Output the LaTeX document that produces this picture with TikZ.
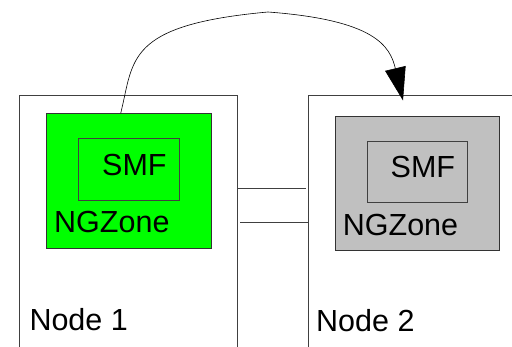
\documentclass[tikz,border=0pt]{standalone}
\usepackage{fontspec}
\setmainfont{Liberation Sans}
\usetikzlibrary{arrows.meta}
\definecolor{zonegreen}{HTML}{00FF00}
\definecolor{zonegray}{HTML}{C0C0C0}
\tikzset{
	hostbox/.style={draw=black!75, line width=0.8pt, rectangle, anchor=north west, inner sep=0pt},
	zonebox/.style={draw=black!80, line width=0.9pt, rectangle, anchor=north west, inner sep=0pt},
	smfbox/.style={draw=black!75, line width=0.8pt, rectangle, anchor=north west, inner sep=0pt},
	lbl/.style={anchor=west, inner sep=0pt, font=\fontsize{30.5}{36}\selectfont}
}
\begin{document}
\begin{tikzpicture}[x=1pt, y=-1pt]
				\useasboundingbox (0,0) rectangle (512,347);
				\node[hostbox, minimum width=218pt, minimum height=300pt] (N1)at(19, 95.5) {};
				\node[hostbox, minimum width=260pt, minimum height=300pt] (N2)at(307.5, 95.5) {};
				\node[zonebox, fill=zonegreen, minimum width=164.5pt, minimum height=134.5pt] (Z1)at(46, 113.3) {};
				\node[zonebox, fill=zonegray, minimum width=164pt, minimum height=134pt] (Z2)at(335, 115.8) {};
				\node[smfbox, minimum width=100.5pt, minimum height=61.7pt] (S1)at(78.3, 138.3) {};
				\node[smfbox, minimum width=100.6pt, minimum height=61.6pt] (S2)at(366.7, 140.7) {};
				\node[lbl] (S1t)at(102, 165.5) {SMF};
				\node[lbl] (S2t)at(390.5, 167.5) {SMF};
				\node[lbl] (Z1t)at(54, 222.3) {NGZone};
				\node[lbl] (Z2t)at(342.7, 225) {NGZone};
				\node[lbl] (N1t)at(29.3, 319.5) {Node 1};
				\node[lbl] (N2t)at(316, 321) {Node 2};
				\draw[black!75, line width=0.8pt] (N1.north east |- 0,188.7) -- ([xshift=-1.7pt]N2.north west |- 0,188.7);
				\draw[black!75, line width=0.8pt] ([xshift=2.5pt]N1.north east |- 0,222.3) -- (N2.north west |- 0,222.3);
				\draw[-{Triangle[length=33pt, width=21pt]}, line width=0.6pt] ([xshift=-8pt]Z1.north) .. controls (134,60) and (125,25) .. (268,12) .. controls (375,20) and (390,46) .. ([xshift=95.5pt, yshift=-5pt]N2.north west);
			\end{tikzpicture}
\end{document}
